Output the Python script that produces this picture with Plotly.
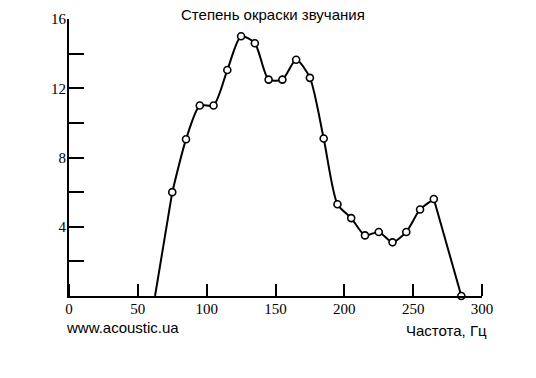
import plotly.graph_objects as go

# Data
freq = [75, 85, 95, 105, 115, 125, 135, 145, 155, 165, 175, 185,
        195, 205, 215, 225, 235, 245, 255, 265, 285]
level = [6.0, 9.05, 11.0, 11.0, 13.05, 15.0, 14.6, 12.5, 12.5, 13.65, 12.6, 9.1,
         5.3, 4.5, 3.5, 3.7, 3.1, 3.7, 5.0, 5.6, 0.0]
curve_start_freq = 62.5
curve_start_level = 0.0

x_ticks = [0, 50, 100, 150, 200, 250, 300]
y_ticks = [4, 8, 12, 16]
y_minor_ticks = [2, 6, 10, 14]

title_text = "Степень окраски звучания"
x_title = "Частота, Гц"
site_text = "www.acoustic.ua"

line_style = dict(color="black", width=2)

fig = go.Figure()
fig.add_trace(go.Scatter(
    x=[curve_start_freq, freq[0]], y=[curve_start_level, level[0]],
    mode="lines", line=line_style, hoverinfo="skip"))
fig.add_trace(go.Scatter(
    x=freq[:-1], y=level[:-1], mode="lines",
    line=dict(**line_style, shape="spline", smoothing=0.7), hoverinfo="skip"))
fig.add_trace(go.Scatter(
    x=freq[-2:], y=level[-2:], mode="lines", line=line_style, hoverinfo="skip"))
fig.add_trace(go.Scatter(
    x=freq, y=level, mode="markers",
    marker=dict(symbol="circle", size=7, color="white",
                line=dict(color="black", width=1.6)),
    cliponaxis=False,
))
# invisible companion trace so the tick-mark axis (x2) is drawn
fig.add_trace(go.Scatter(
    x=freq, y=level, xaxis="x2", mode="lines",
    line=dict(width=0, color="rgba(0,0,0,0)"), hoverinfo="skip"))

tick_font = dict(family="Liberation Serif", size=15, color="black")
fig.update_layout(
    width=536, height=378,
    margin=dict(l=69, r=54, t=19, b=82),
    paper_bgcolor="white", plot_bgcolor="white",
    showlegend=False,
    xaxis=dict(range=[0, 300], tickvals=x_ticks, ticks="", showline=True,
               linecolor="black", linewidth=2, showgrid=False, zeroline=False,
               tickfont=tick_font, ticklabelstandoff=-2),
    # axis used only for the upward tick marks along the bottom
    xaxis2=dict(range=[0, 300], overlaying="x", side="top", anchor="free",
                position=0, tickvals=x_ticks, ticks="outside", ticklen=12,
                tickwidth=2, tickcolor="black", showticklabels=False,
                showline=False, showgrid=False, zeroline=False),
    yaxis=dict(range=[0, 16], tickvals=y_ticks, ticks="inside", ticklen=15,
               tickwidth=2, tickcolor="black", showline=True, linecolor="black",
               linewidth=2, showgrid=False, zeroline=False, tickfont=tick_font,
               ticklabelstandoff=-2,
               minor=dict(tickvals=y_minor_ticks, ticks="inside", ticklen=15,
                          tickwidth=2, tickcolor="black", showgrid=False)),
    annotations=[
        dict(text=title_text, xref="paper", yref="paper", x=0.495, y=1.018,
             xanchor="center", yanchor="middle", showarrow=False,
             font=dict(family="Liberation Sans", size=15, color="black")),
        dict(text=site_text, xref="paper", yref="paper", x=-0.012, y=-0.1155,
             xanchor="left", yanchor="middle", showarrow=False,
             font=dict(family="Liberation Sans", size=15, color="black")),
        dict(text=x_title, xref="paper", yref="paper", x=1.017, y=-0.126,
             xanchor="right", yanchor="middle", showarrow=False,
             font=dict(family="Liberation Sans", size=15, color="black")),
    ],
)

fig.write_html("out.html", config={"displayModeBar": False})
